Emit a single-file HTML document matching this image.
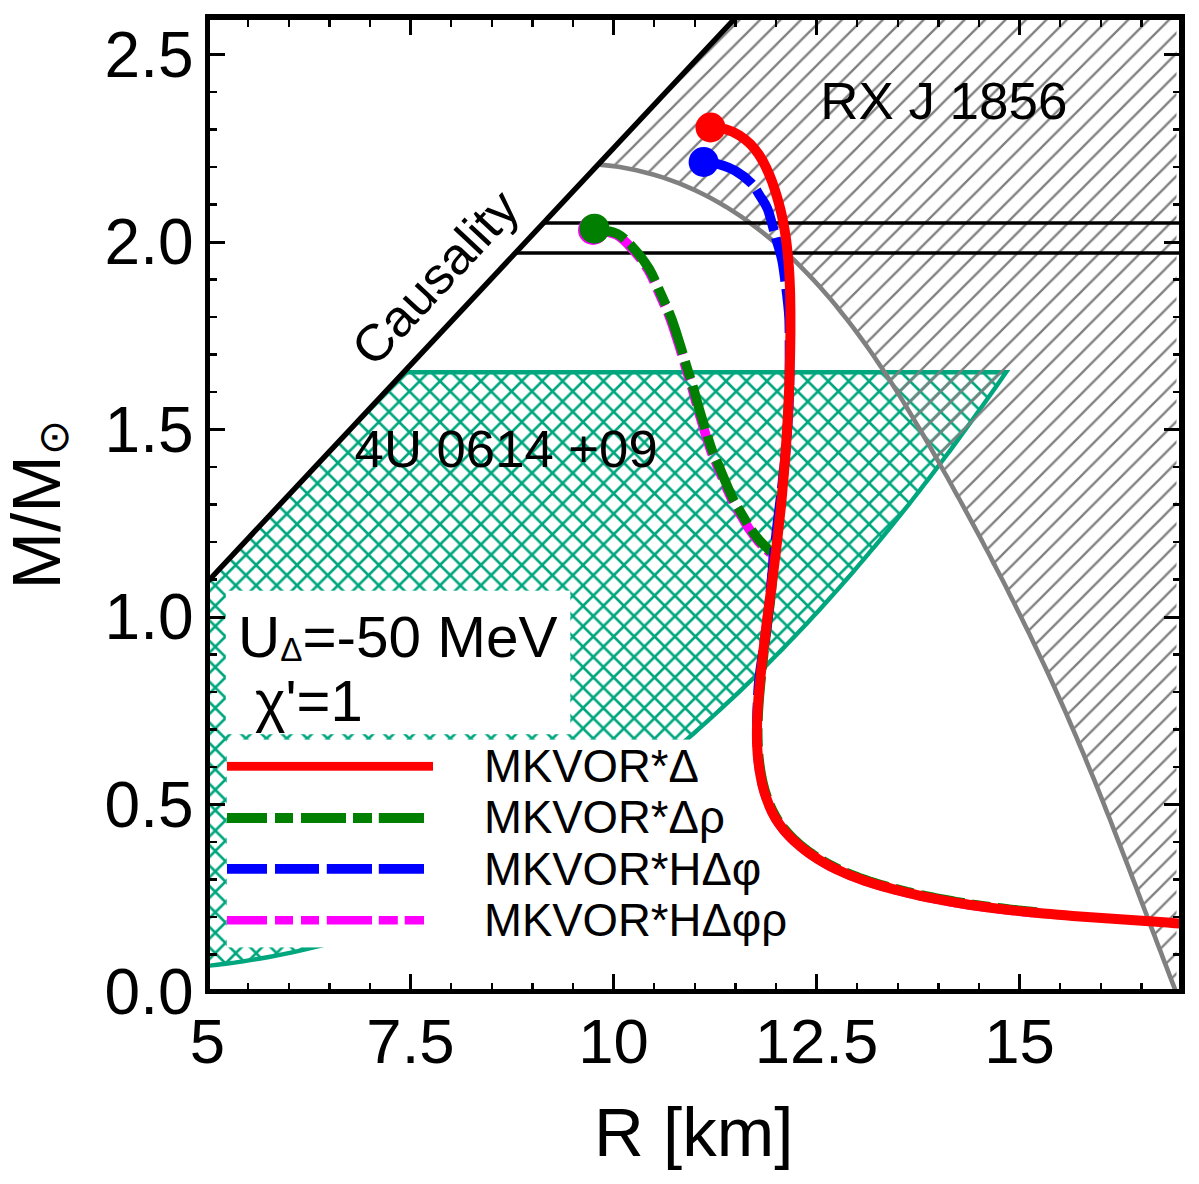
<!DOCTYPE html>
<html><head><meta charset="utf-8"><style>
html,body{margin:0;padding:0;background:#fff;width:1199px;height:1184px;overflow:hidden}
svg{display:block}
text{font-family:"Liberation Sans", sans-serif;fill:#000}
</style></head><body>
<svg width="1199" height="1184" viewBox="0 0 1199 1184">
<defs>
<pattern id="hg" patternUnits="userSpaceOnUse" width="20.45" height="20.45" x="0" y="2.8">
<path d="M-1 21.45 L21.45 -1 M-1 1 L1 -1 M19.45 21.45 L21.45 19.45" stroke="#808080" stroke-width="2.3"/>
</pattern>
<pattern id="ht" patternUnits="userSpaceOnUse" width="20.43" height="20.43" x="11" y="13.4">
<path d="M-1 21.43 L21.43 -1 M-1 1 L1 -1 M19.43 21.43 L21.43 19.43 M-1 -1 L21.43 21.43 M-1 19.43 L1 21.43 M19.43 -1 L21.43 1" stroke="#00a67e" stroke-width="2.6"/>
</pattern>
<clipPath id="plot"><rect x="210" y="20" width="969" height="969"/></clipPath>
</defs>
<g clip-path="url(#plot)">
<path d="M403.8 372.2 L1006.1 372.2 L1006.1 372.2L1001.2 379.3L996.2 386.4L991.2 393.6L986.1 400.7L981.1 407.8L976.0 414.9L970.9 422.0L965.8 429.0L960.7 436.0L955.5 443.1L950.4 450.1L945.2 457.0L939.9 464.0L934.7 470.9L929.4 477.8L924.1 484.7L918.8 491.6L913.4 498.5L908.1 505.3L902.6 512.1L897.2 518.9L891.8 525.6L886.3 532.4L880.8 539.1L875.2 545.8L869.6 552.4L864.0 559.1L858.4 565.7L852.8 572.3L847.1 578.8L841.4 585.4L835.6 591.9L829.8 598.3L824.0 604.8L818.2 611.2L812.3 617.6L806.4 623.9L800.4 630.3L794.5 636.6L788.5 642.8L782.4 649.1L776.3 655.3L770.2 661.4L764.1 667.6L757.9 673.7L751.7 679.8L745.4 685.8L739.2 691.8L732.8 697.8L726.5 703.7L720.1 709.6L713.7 715.5L707.2 721.4L700.7 727.2L694.2 733.0L687.7 738.7L681.1 744.5L674.5 750.2L667.9 755.8L661.2 761.4L654.5 767.0L647.7 772.6L641.0 778.1L634.1 783.5L627.3 788.9L620.4 794.3L613.5 799.6L606.6 804.9L599.6 810.1L592.5 815.2L585.5 820.3L578.4 825.3L571.2 830.3L564.0 835.2L556.8 840.0L549.5 844.8L542.2 849.5L534.9 854.1L527.5 858.6L520.0 863.1L512.6 867.5L505.0 871.8L497.5 876.0L489.8 880.2L482.2 884.2L474.5 888.2L466.7 892.1L458.9 895.9L451.1 899.5L443.2 903.1L435.2 906.6L427.3 910.0L419.2 913.4L411.2 916.6L403.1 919.7L394.9 922.7L386.7 925.7L378.5 928.5L370.3 931.3L362.0 933.9L353.7 936.5L345.3 938.9L336.9 941.3L328.5 943.6L320.1 945.8L311.6 947.9L303.1 949.9L294.6 951.8L286.1 953.6L277.5 955.3L268.9 957.0L260.4 958.5L251.7 959.9L243.1 961.3L234.5 962.6L225.8 963.7L217.1 964.8L208.5 965.8L199.8 966.7 L207.5 581.8 Z" fill="url(#ht)"/>
<path d="M403.8 372.2 L1006.1 372.2 L1006.1 372.2L1001.2 379.3L996.2 386.4L991.2 393.6L986.1 400.7L981.1 407.8L976.0 414.9L970.9 422.0L965.8 429.0L960.7 436.0L955.5 443.1L950.4 450.1L945.2 457.0L939.9 464.0L934.7 470.9L929.4 477.8L924.1 484.7L918.8 491.6L913.4 498.5L908.1 505.3L902.6 512.1L897.2 518.9L891.8 525.6L886.3 532.4L880.8 539.1L875.2 545.8L869.6 552.4L864.0 559.1L858.4 565.7L852.8 572.3L847.1 578.8L841.4 585.4L835.6 591.9L829.8 598.3L824.0 604.8L818.2 611.2L812.3 617.6L806.4 623.9L800.4 630.3L794.5 636.6L788.5 642.8L782.4 649.1L776.3 655.3L770.2 661.4L764.1 667.6L757.9 673.7L751.7 679.8L745.4 685.8L739.2 691.8L732.8 697.8L726.5 703.7L720.1 709.6L713.7 715.5L707.2 721.4L700.7 727.2L694.2 733.0L687.7 738.7L681.1 744.5L674.5 750.2L667.9 755.8L661.2 761.4L654.5 767.0L647.7 772.6L641.0 778.1L634.1 783.5L627.3 788.9L620.4 794.3L613.5 799.6L606.6 804.9L599.6 810.1L592.5 815.2L585.5 820.3L578.4 825.3L571.2 830.3L564.0 835.2L556.8 840.0L549.5 844.8L542.2 849.5L534.9 854.1L527.5 858.6L520.0 863.1L512.6 867.5L505.0 871.8L497.5 876.0L489.8 880.2L482.2 884.2L474.5 888.2L466.7 892.1L458.9 895.9L451.1 899.5L443.2 903.1L435.2 906.6L427.3 910.0L419.2 913.4L411.2 916.6L403.1 919.7L394.9 922.7L386.7 925.7L378.5 928.5L370.3 931.3L362.0 933.9L353.7 936.5L345.3 938.9L336.9 941.3L328.5 943.6L320.1 945.8L311.6 947.9L303.1 949.9L294.6 951.8L286.1 953.6L277.5 955.3L268.9 957.0L260.4 958.5L251.7 959.9L243.1 961.3L234.5 962.6L225.8 963.7L217.1 964.8L208.5 965.8L199.8 966.7" fill="none" stroke="#00a67e" stroke-width="4.4"/>
<path d="M596.8 166 L601 166 L599.8 164.6L609.2 165.6L618.4 166.8L627.5 168.4L636.5 170.2L645.3 172.4L654.0 174.7L662.6 177.4L671.0 180.3L679.3 183.4L687.4 186.8L695.4 190.4L703.3 194.2L711.1 198.2L718.7 202.5L726.2 206.9L733.6 211.6L740.9 216.4L748.0 221.4L755.0 226.6L761.9 231.9L768.7 237.4L775.4 243.0L781.9 248.8L788.4 254.7L794.7 260.7L800.9 266.8L807.0 273.1L813.0 279.4L819.0 285.9L824.8 292.4L830.5 299.1L836.1 305.8L841.6 312.7L847.1 319.6L852.5 326.6L857.7 333.7L863.0 340.8L868.1 348.0L873.2 355.3L878.2 362.7L883.1 370.1L888.0 377.5L892.8 385.0L897.6 392.6L902.3 400.1L906.9 407.8L911.5 415.4L916.1 423.1L920.7 430.8L925.2 438.5L929.6 446.2L934.1 454.0L938.5 461.7L942.8 469.5L947.2 477.2L951.5 485.0L955.8 492.8L960.1 500.5L964.4 508.3L968.6 516.1L972.8 523.9L977.0 531.7L981.2 539.4L985.3 547.2L989.5 555.0L993.5 562.9L997.6 570.7L1001.7 578.5L1005.7 586.3L1009.6 594.2L1013.6 602.0L1017.5 609.9L1021.4 617.8L1025.3 625.7L1029.2 633.6L1033.0 641.5L1036.8 649.4L1040.5 657.4L1044.3 665.3L1048.0 673.3L1051.7 681.3L1055.3 689.3L1058.9 697.3L1062.5 705.3L1066.1 713.4L1069.6 721.5L1073.1 729.6L1076.6 737.7L1080.0 745.8L1083.5 753.9L1086.8 762.1L1090.2 770.3L1093.6 778.4L1096.9 786.6L1100.2 794.9L1103.5 803.1L1106.7 811.3L1110.0 819.5L1113.2 827.8L1116.4 836.1L1119.6 844.3L1122.8 852.6L1126.0 860.9L1129.2 869.1L1132.3 877.4L1135.5 885.7L1138.6 894.0L1141.8 902.3L1144.9 910.5L1148.1 918.8L1151.2 927.1L1154.4 935.4L1157.5 943.7L1160.7 951.9L1163.8 960.2L1167.0 968.4L1170.1 976.7L1173.3 984.9L1176.5 993.2 L1176.5 992 L1176.5 14 L739.1 14 Z" fill="url(#hg)"/>
<path d="M599.8 164.6L609.2 165.6L618.4 166.8L627.5 168.4L636.5 170.2L645.3 172.4L654.0 174.7L662.6 177.4L671.0 180.3L679.3 183.4L687.4 186.8L695.4 190.4L703.3 194.2L711.1 198.2L718.7 202.5L726.2 206.9L733.6 211.6L740.9 216.4L748.0 221.4L755.0 226.6L761.9 231.9L768.7 237.4L775.4 243.0L781.9 248.8L788.4 254.7L794.7 260.7L800.9 266.8L807.0 273.1L813.0 279.4L819.0 285.9L824.8 292.4L830.5 299.1L836.1 305.8L841.6 312.7L847.1 319.6L852.5 326.6L857.7 333.7L863.0 340.8L868.1 348.0L873.2 355.3L878.2 362.7L883.1 370.1L888.0 377.5L892.8 385.0L897.6 392.6L902.3 400.1L906.9 407.8L911.5 415.4L916.1 423.1L920.7 430.8L925.2 438.5L929.6 446.2L934.1 454.0L938.5 461.7L942.8 469.5L947.2 477.2L951.5 485.0L955.8 492.8L960.1 500.5L964.4 508.3L968.6 516.1L972.8 523.9L977.0 531.7L981.2 539.4L985.3 547.2L989.5 555.0L993.5 562.9L997.6 570.7L1001.7 578.5L1005.7 586.3L1009.6 594.2L1013.6 602.0L1017.5 609.9L1021.4 617.8L1025.3 625.7L1029.2 633.6L1033.0 641.5L1036.8 649.4L1040.5 657.4L1044.3 665.3L1048.0 673.3L1051.7 681.3L1055.3 689.3L1058.9 697.3L1062.5 705.3L1066.1 713.4L1069.6 721.5L1073.1 729.6L1076.6 737.7L1080.0 745.8L1083.5 753.9L1086.8 762.1L1090.2 770.3L1093.6 778.4L1096.9 786.6L1100.2 794.9L1103.5 803.1L1106.7 811.3L1110.0 819.5L1113.2 827.8L1116.4 836.1L1119.6 844.3L1122.8 852.6L1126.0 860.9L1129.2 869.1L1132.3 877.4L1135.5 885.7L1138.6 894.0L1141.8 902.3L1144.9 910.5L1148.1 918.8L1151.2 927.1L1154.4 935.4L1157.5 943.7L1160.7 951.9L1163.8 960.2L1167.0 968.4L1170.1 976.7L1173.3 984.9L1176.5 993.2" fill="none" stroke="#808080" stroke-width="4.6"/>
<line x1="543.5" y1="223" x2="1182" y2="223" stroke="#000" stroke-width="3.6"/>
<line x1="515.4" y1="253" x2="1182" y2="253" stroke="#000" stroke-width="3.6"/>
<line x1="207.5" y1="581.8" x2="739.1" y2="14" stroke="#000" stroke-width="5.4"/>
<path id="mag" d="M593.5 229.7C597.3 230.5 609.7 231.4 616.3 234.8C622.9 238.2 627.9 244.1 633.2 250C638.6 255.9 643.9 262.7 648.4 270.3C652.9 277.9 656.5 287.5 660.2 295.6C663.9 303.8 667.3 311 670.4 319.2C673.5 327.4 676.1 336.2 678.8 344.6C681.5 353.1 684.2 362.8 686.4 369.9C688.6 377 689.8 380.2 691.9 387.4C694 394.6 696.8 405.3 699.1 413.1C701.4 420.9 703.5 427.6 705.5 434C707.5 440.4 709.3 446.5 711.2 451.6C713.1 456.7 714.5 459.1 716.8 464.5C719.1 469.9 722.3 477.8 724.8 483.7C727.3 489.6 729.6 495 732 499.8C734.4 504.6 736.5 507.8 739.3 512.6C742.1 517.4 745.7 523.9 748.9 528.7C752.1 533.5 755.3 537.8 758.5 541.5C761.7 545.2 765.7 548.2 768.1 551.1C770.5 554 772.8 550.4 773 559C773.2 567.6 770.1 594.3 769.4 602.8C768.6 611.3 768.8 607.6 768.4 610C768.1 612.5 767.8 614.9 767.5 617.3C767.2 619.7 766.9 622.1 766.6 624.6C766.3 627 766 629.4 765.7 631.8C765.4 634.3 765.1 636.7 764.8 639.1C764.5 641.5 764.2 643.9 763.9 646.4C763.6 648.8 763.3 651.2 763 653.7C762.8 656.1 762.5 658.5 762.2 660.9C761.9 663.4 761.7 665.8 761.4 668.2C761.1 670.7 760.9 673.1 760.6 675.5C760.4 678 760.1 680.4 759.9 682.8C759.6 685.3 759.4 687.7 759.2 690.1C759 692.6 758.7 695 758.5 697.4C758.3 699.9 758.2 702.3 758 704.8C757.8 707.2 757.7 709.6 757.5 712.1C757.4 714.5 757.3 717 757.2 719.4C757.1 721.8 757 724.3 757 726.7C756.9 729.1 756.9 731.6 756.9 734C756.9 736.4 757 738.9 757 741.3C757.1 743.7 757.2 746.2 757.3 748.6C757.5 751 757.6 753.5 757.8 755.9C758.1 758.3 758.3 760.7 758.6 763.2C758.9 765.6 759.2 768 759.6 770.4C760 772.8 760.4 775.3 760.9 777.7C761.3 780.1 761.8 782.5 762.4 784.8C763 787.2 763.6 789.6 764.3 791.9C765 794.2 765.7 796.6 766.6 798.9C767.4 801.1 768.2 803.4 769.2 805.6C770.1 807.9 771.2 810.1 772.2 812.2C773.3 814.4 774.5 816.5 775.7 818.6C777 820.7 778.3 822.7 779.7 824.7C781.1 826.6 782.6 828.6 784.2 830.5C785.7 832.3 787.4 834.2 789 835.9C790.7 837.7 792.5 839.5 794.3 841.1C796.1 842.8 797.9 844.5 799.8 846C801.7 847.6 803.6 849.2 805.6 850.6C807.6 852.1 809.6 853.6 811.6 854.9C813.6 856.3 815.6 857.7 817.7 859C819.8 860.3 821.8 861.5 824 862.7C826.1 863.9 828.2 865.1 830.4 866.2C832.5 867.3 834.7 868.4 836.9 869.4C839.1 870.5 841.3 871.5 843.5 872.5C845.7 873.4 848 874.4 850.2 875.3C852.5 876.2 854.8 877.1 857 877.9C859.3 878.8 861.6 879.6 863.9 880.4C866.2 881.2 868.6 881.9 870.9 882.7C873.2 883.4 875.5 884.2 877.9 884.9C880.2 885.6 882.6 886.2 884.9 886.9C887.3 887.6 889.6 888.2 892 888.9C894.4 889.5 896.7 890.1 899.1 890.7C901.4 891.3 903.8 891.9 906.2 892.5C908.6 893 910.9 893.6 913.3 894.2C915.7 894.7 918.1 895.2 920.4 895.8C922.8 896.3 925.2 896.8 927.6 897.3C930 897.8 932.4 898.3 934.7 898.7C937.1 899.2 939.5 899.7 941.9 900.1C944.3 900.6 946.7 901 949.1 901.4C951.5 901.8 953.9 902.3 956.3 902.7C958.7 903.1 961.1 903.5 963.5 903.9C965.9 904.2 968.3 904.6 970.7 905C973.1 905.3 975.5 905.7 978 906C980.4 906.4 982.8 906.7 985.2 907C987.6 907.4 990 907.7 992.4 908C994.9 908.3 997.3 908.6 999.7 908.9C1002.1 909.2 1004.5 909.5 1007 909.8C1009.4 910.1 1011.8 910.3 1014.2 910.6C1016.7 910.9 1019.1 911.1 1021.5 911.4C1023.9 911.6 1026.4 911.9 1028.8 912.1C1031.2 912.3 1034.9 912.7 1036.1 912.8" fill="none" stroke="#ff00ff" stroke-width="9.6" stroke-dasharray="44.5 7.5 18.5 7.5 18.5 7.5" stroke-dashoffset="89.9"/>
<circle cx="593" cy="230" r="15" fill="#ff00ff"/>
<path id="green" d="M594.5 228.7C598.3 229.5 610.7 230.4 617.3 233.8C623.9 237.2 628.9 243.1 634.2 249C639.6 254.9 644.9 261.7 649.4 269.3C653.9 276.9 657.5 286.5 661.2 294.6C664.9 302.8 668.3 310 671.4 318.2C674.5 326.4 677.1 335.2 679.8 343.6C682.5 352.1 685.2 361.8 687.4 368.9C689.6 376 690.8 379.2 692.9 386.4C695 393.6 697.8 404.3 700.1 412.1C702.4 419.9 704.5 426.6 706.5 433C708.5 439.4 710.3 445.5 712.2 450.6C714.1 455.7 715.5 458.1 717.8 463.5C720.1 468.9 723.3 476.8 725.8 482.7C728.3 488.6 730.6 494 733 498.8C735.4 503.6 737.5 506.8 740.3 511.6C743.1 516.4 746.7 522.9 749.9 527.7C753.1 532.5 756.3 536.8 759.5 540.5C762.7 544.2 766.7 547.2 769.1 550.1C771.5 553 773.8 549.4 774 558C774.2 566.6 771 593.4 770.2 602C769.4 610.5 769.6 606.8 769.2 609.2C768.9 611.7 768.6 614.1 768.3 616.5C768 618.9 767.7 621.3 767.4 623.8C767.1 626.2 766.8 628.6 766.5 631C766.2 633.5 765.9 635.9 765.6 638.3C765.3 640.7 765 643.1 764.7 645.6C764.4 648 764.1 650.4 763.8 652.9C763.6 655.3 763.3 657.7 763 660.1C762.7 662.6 762.5 665 762.2 667.4C761.9 669.9 761.7 672.3 761.4 674.7C761.2 677.2 760.9 679.6 760.7 682C760.4 684.5 760.2 686.9 760 689.3C759.8 691.8 759.5 694.2 759.3 696.6C759.1 699.1 759 701.5 758.8 704C758.6 706.4 758.5 708.8 758.3 711.3C758.2 713.7 758.1 716.2 758 718.6C757.9 721 757.8 723.5 757.8 725.9C757.7 728.3 757.7 730.8 757.7 733.2C757.7 735.6 757.8 738.1 757.8 740.5C757.9 742.9 758 745.4 758.1 747.8C758.3 750.2 758.4 752.7 758.6 755.1C758.9 757.5 759.1 759.9 759.4 762.4C759.7 764.8 760 767.2 760.4 769.6C760.8 772 761.2 774.5 761.7 776.9C762.1 779.3 762.6 781.7 763.2 784C763.8 786.4 764.4 788.8 765.1 791.1C765.8 793.4 766.5 795.8 767.4 798.1C768.2 800.3 769 802.6 770 804.8C770.9 807.1 772 809.3 773 811.4C774.1 813.6 775.3 815.7 776.5 817.8C777.8 819.9 779.1 821.9 780.5 823.9C781.9 825.8 783.4 827.8 785 829.7C786.5 831.5 788.2 833.4 789.8 835.1C791.5 836.9 793.3 838.7 795.1 840.3C796.9 842 798.7 843.7 800.6 845.2C802.5 846.8 804.4 848.4 806.4 849.8C808.4 851.3 810.4 852.8 812.4 854.1C814.4 855.5 816.4 856.9 818.5 858.2C820.6 859.5 822.6 860.7 824.8 861.9C826.9 863.1 829 864.3 831.2 865.4C833.3 866.5 835.5 867.6 837.7 868.6C839.9 869.7 842.1 870.7 844.3 871.7C846.5 872.6 848.8 873.6 851 874.5C853.3 875.4 855.6 876.3 857.8 877.1C860.1 878 862.4 878.8 864.7 879.6C867 880.4 869.4 881.1 871.7 881.9C874 882.6 876.3 883.4 878.7 884.1C881 884.8 883.4 885.4 885.7 886.1C888.1 886.8 890.4 887.4 892.8 888.1C895.2 888.7 897.5 889.3 899.9 889.9C902.2 890.5 904.6 891.1 907 891.7C909.4 892.2 911.7 892.8 914.1 893.4C916.5 893.9 918.9 894.4 921.2 895C923.6 895.5 926 896 928.4 896.5C930.8 897 933.2 897.5 935.5 897.9C937.9 898.4 940.3 898.9 942.7 899.3C945.1 899.8 947.5 900.2 949.9 900.6C952.3 901 954.7 901.5 957.1 901.9C959.5 902.3 961.9 902.7 964.3 903.1C966.7 903.4 969.1 903.8 971.5 904.2C973.9 904.5 976.3 904.9 978.8 905.2C981.2 905.6 983.6 905.9 986 906.2C988.4 906.6 990.8 906.9 993.2 907.2C995.7 907.5 998.1 907.8 1000.5 908.1C1002.9 908.4 1005.3 908.7 1007.8 909C1010.2 909.3 1012.6 909.5 1015 909.8C1017.5 910.1 1019.9 910.3 1022.3 910.6C1024.7 910.8 1027.2 911.1 1029.6 911.3C1032 911.5 1035.7 911.9 1036.9 912" fill="none" stroke="#007f00" stroke-width="9.6" stroke-dasharray="44.6 7.5 18.5 7.5" stroke-dashoffset="38"/>
<circle cx="594.5" cy="228.7" r="15" fill="#007f00"/>
<path id="blue" d="M703.6 162C706.2 162.4 713.7 162.9 719 164.4C724.3 165.9 730.3 167.9 735.6 171C740.9 174.1 746.9 178.6 751 182.8C755.1 187 757.2 191.7 760 196C762.8 200.3 765.3 203.3 767.5 208.8C769.7 214.3 771.9 223.7 773.4 228.9C774.9 234.1 775.1 234.8 776.5 240C777.9 245.2 780.6 253.3 782 260C783.4 266.7 784.1 273.3 785 280C785.9 286.7 786.8 293.3 787.5 300C788.2 306.7 788.9 310.8 789.2 320C789.5 329.2 789.5 341.7 789.5 355C789.5 368.3 789.8 382.3 789 400C788.2 417.7 787.1 437.3 784.8 461C782.5 484.7 778.2 515 775.3 542C772.4 569 769.9 600 767.2 623C764.5 646 760.7 663.2 759 680C757.3 696.8 757.2 716.6 756.9 723.9" fill="none" stroke="#0000ff" stroke-width="9.6" stroke-dasharray="44.5 7.5" stroke-dashoffset="42"/>
<circle cx="703.6" cy="162" r="15" fill="#0000ff"/>
<path id="red" d="M710.5 127.5L718.2 127.9L725.8 129.4L732.8 131.9L739.2 135.2L745.0 139.3L750.3 144.0L755.0 149.3L759.2 155.1L762.9 161.3L766.3 167.9L769.3 174.6L772.0 181.5L774.4 188.5L776.6 195.5L778.6 202.5L780.5 209.6L782.1 216.7L783.5 223.9L784.8 231.1L785.9 238.3L786.8 245.5L787.6 252.8L788.3 260.1L788.9 267.4L789.4 274.7L789.7 282.0L790.0 289.3L790.2 296.7L790.3 304.0L790.4 311.4L790.4 318.7L790.4 326.0L790.4 333.4L790.3 340.7L790.2 348.0L790.1 355.4L789.9 362.7L789.7 370.0L789.5 377.3L789.3 384.6L789.0 391.9L788.7 399.2L788.3 406.5L788.0 413.8L787.6 421.1L787.1 428.4L786.7 435.7L786.2 443.0L785.7 450.3L785.2 457.5L784.6 464.8L784.0 472.1L783.4 479.4L782.7 486.6L782.1 493.9L781.4 501.2L780.7 508.4L779.9 515.7L779.1 523.0L778.3 530.2L777.5 537.5L776.7 544.7L775.8 552.0L774.9 559.3L774.0 566.5L773.1 573.8L772.2 581.0L771.3 588.3L770.3 595.5L769.4 602.8L768.4 610.0L767.5 617.3L766.6 624.6L765.7 631.8L764.8 639.1L763.9 646.4L763.0 653.7L762.2 660.9L761.4 668.2L760.6 675.5L759.9 682.8L759.2 690.1L758.5 697.4L758.0 704.8L757.5 712.1L757.2 719.4L757.0 726.7L756.9 734.0L757.0 741.3L757.3 748.6L757.8 755.9L758.6 763.2L759.6 770.4L760.9 777.7L762.4 784.8L764.3 791.9L766.6 798.9L769.2 805.6L772.2 812.2L775.7 818.6L779.7 824.7L784.2 830.5L789.0 835.9L794.3 841.1L799.8 846.0L805.6 850.6L811.6 854.9L817.7 859.0L824.0 862.7L830.4 866.2L836.9 869.4L843.5 872.5L850.2 875.3L857.0 877.9L863.9 880.4L870.9 882.7L877.9 884.9L884.9 886.9L892.0 888.9L899.1 890.7L906.2 892.5L913.3 894.2L920.4 895.8L927.6 897.3L934.7 898.7L941.9 900.1L949.1 901.4L956.3 902.7L963.5 903.9L970.7 905.0L978.0 906.0L985.2 907.0L992.4 908.0L999.7 908.9L1007.0 909.8L1014.2 910.6L1021.5 911.4L1028.8 912.1L1036.1 912.8L1043.4 913.5L1050.7 914.1L1058.0 914.7L1065.3 915.3L1072.6 915.9L1079.9 916.4L1087.2 917.0L1094.5 917.5L1101.8 918.0L1109.1 918.5L1116.4 919.0L1123.7 919.5L1131.0 920.0L1138.3 920.5L1145.6 921.0L1152.9 921.5L1160.1 922.1L1167.4 922.6L1174.7 923.2L1181.9 923.8" fill="none" stroke="#ff0000" stroke-width="10"/>
<circle cx="710.5" cy="127.5" r="15" fill="#ff0000"/>
</g>
<g font-size="51">
<text transform="translate(820.2,118.5) scale(1.038,1)">RX J 1856</text>
<text transform="translate(354.6,466.5) scale(1.033,1)">4U 0614 +09</text>
<text transform="translate(374,369) rotate(-47) scale(1.035,1)">Causality</text>
</g>
<rect x="225.8" y="590.7" width="344.5" height="143.5" fill="#fff"/>
<rect x="226.7" y="739.6" width="490" height="207.8" fill="#fff"/>
<g font-size="58">
<text transform="translate(238,656.5) scale(1.008,1)">U<tspan font-size="33" dy="4">&#916;</tspan><tspan dy="-4">=-50 MeV</tspan></text>
<text x="255" y="721">&#967;'=1</text>
</g>
<rect x="227" y="761.9" width="206" height="8.8" fill="#ff0000"/>
<path d="M227 817.9H267M275 817.9H293M301 817.9H346M353 817.9H372M378.8 817.9H424" stroke="#007f00" stroke-width="10"/>
<path d="M227 868.9H267M275 868.9H319M326.8 868.9H372M378.8 868.9H424" stroke="#0000ff" stroke-width="9.8"/>
<path d="M227 920.3H267M275 920.3H293M301 920.3H319M326.8 920.3H372M378.8 920.3H397.8M404.7 920.3H424" stroke="#ff00ff" stroke-width="8.6"/>
<g font-size="45.5">
<text x="484" y="782">MKVOR*&#916;</text>
<text x="484" y="833">MKVOR*&#916;&#961;</text>
<text x="484" y="884.5">MKVOR*H&#916;&#966;</text>
<text x="484" y="936">MKVOR*H&#916;&#966;&#961;</text>
</g>
<g stroke="#000" shape-rendering="crispEdges">
<line x1="248.1" y1="989" x2="248.1" y2="982.5" stroke-width="2.4"/><line x1="248.1" y1="20" x2="248.1" y2="26.5" stroke-width="2.4"/><line x1="288.7" y1="989" x2="288.7" y2="982.5" stroke-width="2.4"/><line x1="288.7" y1="20" x2="288.7" y2="26.5" stroke-width="2.4"/><line x1="329.3" y1="989" x2="329.3" y2="982.5" stroke-width="2.4"/><line x1="329.3" y1="20" x2="329.3" y2="26.5" stroke-width="2.4"/><line x1="369.9" y1="989" x2="369.9" y2="982.5" stroke-width="2.4"/><line x1="369.9" y1="20" x2="369.9" y2="26.5" stroke-width="2.4"/><line x1="410.5" y1="989" x2="410.5" y2="974" stroke-width="3"/><line x1="410.5" y1="20" x2="410.5" y2="35" stroke-width="3"/><line x1="451.1" y1="989" x2="451.1" y2="982.5" stroke-width="2.4"/><line x1="451.1" y1="20" x2="451.1" y2="26.5" stroke-width="2.4"/><line x1="491.7" y1="989" x2="491.7" y2="982.5" stroke-width="2.4"/><line x1="491.7" y1="20" x2="491.7" y2="26.5" stroke-width="2.4"/><line x1="532.3" y1="989" x2="532.3" y2="982.5" stroke-width="2.4"/><line x1="532.3" y1="20" x2="532.3" y2="26.5" stroke-width="2.4"/><line x1="572.9" y1="989" x2="572.9" y2="982.5" stroke-width="2.4"/><line x1="572.9" y1="20" x2="572.9" y2="26.5" stroke-width="2.4"/><line x1="613.5" y1="989" x2="613.5" y2="974" stroke-width="3"/><line x1="613.5" y1="20" x2="613.5" y2="35" stroke-width="3"/><line x1="654.1" y1="989" x2="654.1" y2="982.5" stroke-width="2.4"/><line x1="654.1" y1="20" x2="654.1" y2="26.5" stroke-width="2.4"/><line x1="694.7" y1="989" x2="694.7" y2="982.5" stroke-width="2.4"/><line x1="694.7" y1="20" x2="694.7" y2="26.5" stroke-width="2.4"/><line x1="735.3" y1="989" x2="735.3" y2="982.5" stroke-width="2.4"/><line x1="735.3" y1="20" x2="735.3" y2="26.5" stroke-width="2.4"/><line x1="775.9" y1="989" x2="775.9" y2="982.5" stroke-width="2.4"/><line x1="775.9" y1="20" x2="775.9" y2="26.5" stroke-width="2.4"/><line x1="816.5" y1="989" x2="816.5" y2="974" stroke-width="3"/><line x1="816.5" y1="20" x2="816.5" y2="35" stroke-width="3"/><line x1="857.1" y1="989" x2="857.1" y2="982.5" stroke-width="2.4"/><line x1="857.1" y1="20" x2="857.1" y2="26.5" stroke-width="2.4"/><line x1="897.7" y1="989" x2="897.7" y2="982.5" stroke-width="2.4"/><line x1="897.7" y1="20" x2="897.7" y2="26.5" stroke-width="2.4"/><line x1="938.3" y1="989" x2="938.3" y2="982.5" stroke-width="2.4"/><line x1="938.3" y1="20" x2="938.3" y2="26.5" stroke-width="2.4"/><line x1="978.9" y1="989" x2="978.9" y2="982.5" stroke-width="2.4"/><line x1="978.9" y1="20" x2="978.9" y2="26.5" stroke-width="2.4"/><line x1="1019.5" y1="989" x2="1019.5" y2="974" stroke-width="3"/><line x1="1019.5" y1="20" x2="1019.5" y2="35" stroke-width="3"/><line x1="1060.1" y1="989" x2="1060.1" y2="982.5" stroke-width="2.4"/><line x1="1060.1" y1="20" x2="1060.1" y2="26.5" stroke-width="2.4"/><line x1="1100.7" y1="989" x2="1100.7" y2="982.5" stroke-width="2.4"/><line x1="1100.7" y1="20" x2="1100.7" y2="26.5" stroke-width="2.4"/><line x1="1141.3" y1="989" x2="1141.3" y2="982.5" stroke-width="2.4"/><line x1="1141.3" y1="20" x2="1141.3" y2="26.5" stroke-width="2.4"/><line x1="210" y1="954.5" x2="216.5" y2="954.5" stroke-width="2.4"/><line x1="1179" y1="954.5" x2="1172.5" y2="954.5" stroke-width="2.4"/><line x1="210" y1="917" x2="216.5" y2="917" stroke-width="2.4"/><line x1="1179" y1="917" x2="1172.5" y2="917" stroke-width="2.4"/><line x1="210" y1="879.5" x2="216.5" y2="879.5" stroke-width="2.4"/><line x1="1179" y1="879.5" x2="1172.5" y2="879.5" stroke-width="2.4"/><line x1="210" y1="842" x2="216.5" y2="842" stroke-width="2.4"/><line x1="1179" y1="842" x2="1172.5" y2="842" stroke-width="2.4"/><line x1="210" y1="804.5" x2="225" y2="804.5" stroke-width="3"/><line x1="1179" y1="804.5" x2="1164" y2="804.5" stroke-width="3"/><line x1="210" y1="767" x2="216.5" y2="767" stroke-width="2.4"/><line x1="1179" y1="767" x2="1172.5" y2="767" stroke-width="2.4"/><line x1="210" y1="729.5" x2="216.5" y2="729.5" stroke-width="2.4"/><line x1="1179" y1="729.5" x2="1172.5" y2="729.5" stroke-width="2.4"/><line x1="210" y1="692" x2="216.5" y2="692" stroke-width="2.4"/><line x1="1179" y1="692" x2="1172.5" y2="692" stroke-width="2.4"/><line x1="210" y1="654.5" x2="216.5" y2="654.5" stroke-width="2.4"/><line x1="1179" y1="654.5" x2="1172.5" y2="654.5" stroke-width="2.4"/><line x1="210" y1="617" x2="225" y2="617" stroke-width="3"/><line x1="1179" y1="617" x2="1164" y2="617" stroke-width="3"/><line x1="210" y1="579.5" x2="216.5" y2="579.5" stroke-width="2.4"/><line x1="1179" y1="579.5" x2="1172.5" y2="579.5" stroke-width="2.4"/><line x1="210" y1="542" x2="216.5" y2="542" stroke-width="2.4"/><line x1="1179" y1="542" x2="1172.5" y2="542" stroke-width="2.4"/><line x1="210" y1="504.5" x2="216.5" y2="504.5" stroke-width="2.4"/><line x1="1179" y1="504.5" x2="1172.5" y2="504.5" stroke-width="2.4"/><line x1="210" y1="467" x2="216.5" y2="467" stroke-width="2.4"/><line x1="1179" y1="467" x2="1172.5" y2="467" stroke-width="2.4"/><line x1="210" y1="429.5" x2="225" y2="429.5" stroke-width="3"/><line x1="1179" y1="429.5" x2="1164" y2="429.5" stroke-width="3"/><line x1="210" y1="392" x2="216.5" y2="392" stroke-width="2.4"/><line x1="1179" y1="392" x2="1172.5" y2="392" stroke-width="2.4"/><line x1="210" y1="354.5" x2="216.5" y2="354.5" stroke-width="2.4"/><line x1="1179" y1="354.5" x2="1172.5" y2="354.5" stroke-width="2.4"/><line x1="210" y1="317" x2="216.5" y2="317" stroke-width="2.4"/><line x1="1179" y1="317" x2="1172.5" y2="317" stroke-width="2.4"/><line x1="210" y1="279.5" x2="216.5" y2="279.5" stroke-width="2.4"/><line x1="1179" y1="279.5" x2="1172.5" y2="279.5" stroke-width="2.4"/><line x1="210" y1="242" x2="225" y2="242" stroke-width="3"/><line x1="1179" y1="242" x2="1164" y2="242" stroke-width="3"/><line x1="210" y1="204.5" x2="216.5" y2="204.5" stroke-width="2.4"/><line x1="1179" y1="204.5" x2="1172.5" y2="204.5" stroke-width="2.4"/><line x1="210" y1="167" x2="216.5" y2="167" stroke-width="2.4"/><line x1="1179" y1="167" x2="1172.5" y2="167" stroke-width="2.4"/><line x1="210" y1="129.5" x2="216.5" y2="129.5" stroke-width="2.4"/><line x1="1179" y1="129.5" x2="1172.5" y2="129.5" stroke-width="2.4"/><line x1="210" y1="92" x2="216.5" y2="92" stroke-width="2.4"/><line x1="1179" y1="92" x2="1172.5" y2="92" stroke-width="2.4"/><line x1="210" y1="54.5" x2="225" y2="54.5" stroke-width="3"/><line x1="1179" y1="54.5" x2="1164" y2="54.5" stroke-width="3"/>
</g>
<rect x="207.5" y="17" width="974.5" height="974.5" fill="none" stroke="#000" stroke-width="5.2" shape-rendering="crispEdges"/>
<g font-size="64" text-anchor="end">
<text x="193.5" y="76.8">2.5</text>
<text x="193.5" y="264.3">2.0</text>
<text x="193.5" y="451.8">1.5</text>
<text x="193.5" y="639.3">1.0</text>
<text x="193.5" y="826.8">0.5</text>
<text x="193.5" y="1014.3">0.0</text>
</g>
<g font-size="63.5" text-anchor="middle">
<text x="207.5" y="1063">5</text>
<text x="410.5" y="1063">7.5</text>
<text x="613.5" y="1063">10</text>
<text x="816.5" y="1063">12.5</text>
<text x="1019.5" y="1063">15</text>
</g>
<text x="594" y="1156" font-size="69">R [km]</text>
<text transform="translate(60,589.5) rotate(-90)" font-size="69">M/M<tspan font-size="42" dy="8">&#x2299;</tspan></text>
</svg>
</body></html>
